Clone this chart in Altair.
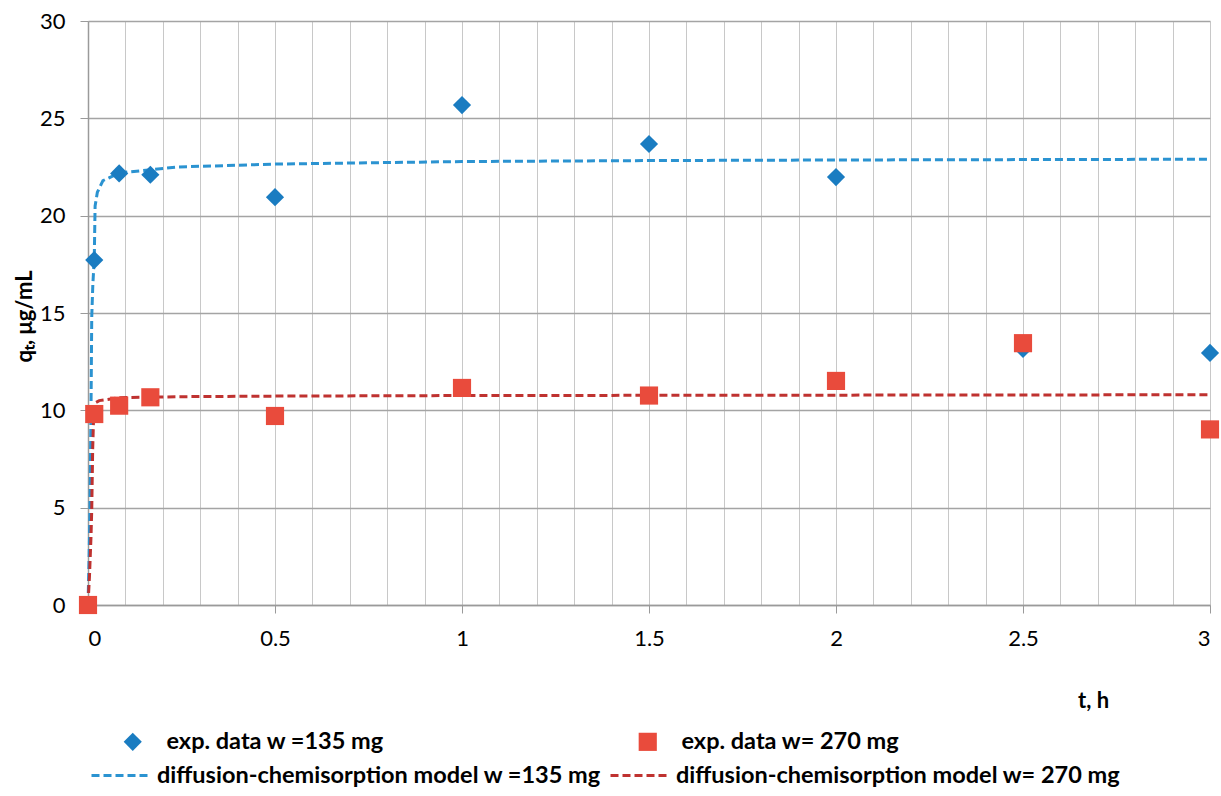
import altair as alt
import pandas as pd

# experimental data
t_exp = [0, 0.0167, 0.0833, 0.1667, 0.5, 1.0, 1.5, 2.0, 2.5, 3.0]
q_exp_135 = [0, 17.72, 22.17, 22.10, 20.95, 25.68, 23.68, 21.98, 13.15, 12.95]
q_exp_270 = [0, 9.81, 10.24, 10.67, 9.71, 11.15, 10.76, 11.51, 13.45, 9.02]

# model curves
t_mod_135 = [0, 0.003, 0.0053, 0.008, 0.010, 0.013, 0.0167, 0.019, 0.025, 0.04, 0.085, 0.24, 0.5, 1.0, 1.5, 2.0, 2.5, 3.0]
q_mod_135 = [0, 2.5, 4.9, 10.0, 14.8, 16.5, 17.75, 20.5, 21.2, 21.8, 22.2, 22.5, 22.65, 22.78, 22.83, 22.86, 22.88, 22.9]
t_mod_270 = [0, 0.004, 0.008, 0.010, 0.0125, 0.016, 0.03, 0.085, 0.24, 0.5, 1.0, 2.0, 3.0]
q_mod_270 = [0, 1.5, 3.5, 4.9, 8.0, 10.35, 10.5, 10.65, 10.7, 10.73, 10.76, 10.78, 10.8]

lab_exp = ["exp. data w =135 mg", "exp. data w= 270 mg"]
lab_mod = ["diffusion-chemisorption model w =135 mg", "diffusion-chemisorption model w= 270 mg"]

x_ticks = [round(i * 0.1, 1) for i in range(31)]
y_ticks = [0, 5, 10, 15, 20, 25, 30]

pts = pd.DataFrame({
    "t": t_exp + t_exp,
    "q": q_exp_135 + q_exp_270,
    "series": [lab_exp[0]] * len(t_exp) + [lab_exp[1]] * len(t_exp),
})
mod = pd.DataFrame({
    "t": t_mod_135 + t_mod_270,
    "q": q_mod_135 + q_mod_270,
    "model": [lab_mod[0]] * len(t_mod_135) + [lab_mod[1]] * len(t_mod_270),
})

FONT = "Lato"
LEG_FS = 23.5

x_enc = alt.X("t:Q", scale=alt.Scale(domain=[0, 3], nice=False, zero=False),
              axis=alt.Axis(values=x_ticks, grid=True, gridColor="#c8c8c8", gridWidth=1,
                            domainColor="#9a9a9a", domainWidth=1.5,
                            tickSize=8, tickColor="#9a9a9a",
                            tickOpacity={"condition": {"test": "round(datum.value*10) % 5 == 0", "value": 1}, "value": 0},
                            labelExpr="(round(datum.value*10) % 5 == 0) ? format(datum.value, '~g') : ''",
                            labelFont=FONT, labelFontSize=22, labelColor="#000000", labelPadding=15,
                            title="t, h", titleFont=FONT, titleFontSize=22, titleFontWeight="bold",
                            titleColor="#000000", titleX=1005, titleY=95, titleAlign="center",
                            titleBaseline="middle"))
y_enc = alt.Y("q:Q", scale=alt.Scale(domain=[0, 30], nice=False),
              axis=alt.Axis(values=y_ticks, grid=True, gridColor="#a4a4a4", gridWidth=1.3,
                            domainColor="#9a9a9a", domainWidth=1.5,
                            tickSize=8, tickColor="#9a9a9a",
                            labelFont=FONT, labelFontSize=22, labelColor="#000000", labelPadding=15,
                            title="qₜ, μg/mL", titleFont=FONT, titleFontSize=22, titleFontWeight="bold",
                            titleColor="#000000", titleX=-64, titleY=295, titleAngle=-90,
                            titleAlign="center", titleBaseline="middle"))

pt_legend = alt.Legend(title=None, orient="none", legendX=33, legendY=709, direction="horizontal",
                       columns=2, columnPadding=250, symbolSize=330, labelFont=FONT,
                       labelFontSize=LEG_FS, labelFontWeight="bold", labelColor="#000000",
                       labelOffset=22, padding=0, labelLimit=600)
ln_legend = alt.Legend(title=None, orient="none", legendX=2, legendY=723, direction="horizontal",
                       columns=2, columnPadding=2, symbolSize=3600, symbolType="stroke",
                       symbolStrokeWidth=3, symbolDash=[8, 4], labelFont=FONT,
                       labelFontSize=LEG_FS, labelFontWeight="bold", labelColor="#000000",
                       labelOffset=4, padding=0, labelLimit=800)

lines = alt.Chart(mod).mark_line(strokeDash=[8, 4], strokeWidth=3).encode(
    x=x_enc, y=y_enc,
    stroke=alt.Stroke("model:N", scale=alt.Scale(domain=lab_mod, range=["#2b93d1", "#bf3230"]),
                      legend=ln_legend),
)

points = alt.Chart(pts).mark_point(filled=True, opacity=1, size=330).encode(
    x=x_enc, y=y_enc,
    fill=alt.Fill("series:N", scale=alt.Scale(domain=lab_exp, range=["#1a7cc1", "#e94b3c"]),
                  legend=pt_legend),
    shape=alt.Shape("series:N", scale=alt.Scale(domain=lab_exp, range=["diamond", "square"]),
                    legend=pt_legend),
)

chart = alt.layer(lines, points).properties(
    width=1122, height=584,
    padding={"left": 88, "top": 21, "right": 11, "bottom": 191},
    autosize=alt.AutoSizeParams(type="none"),
    background="white",
).configure_view(stroke=None)

chart.save("out.html", embed_options={"renderer": "svg", "actions": False})
